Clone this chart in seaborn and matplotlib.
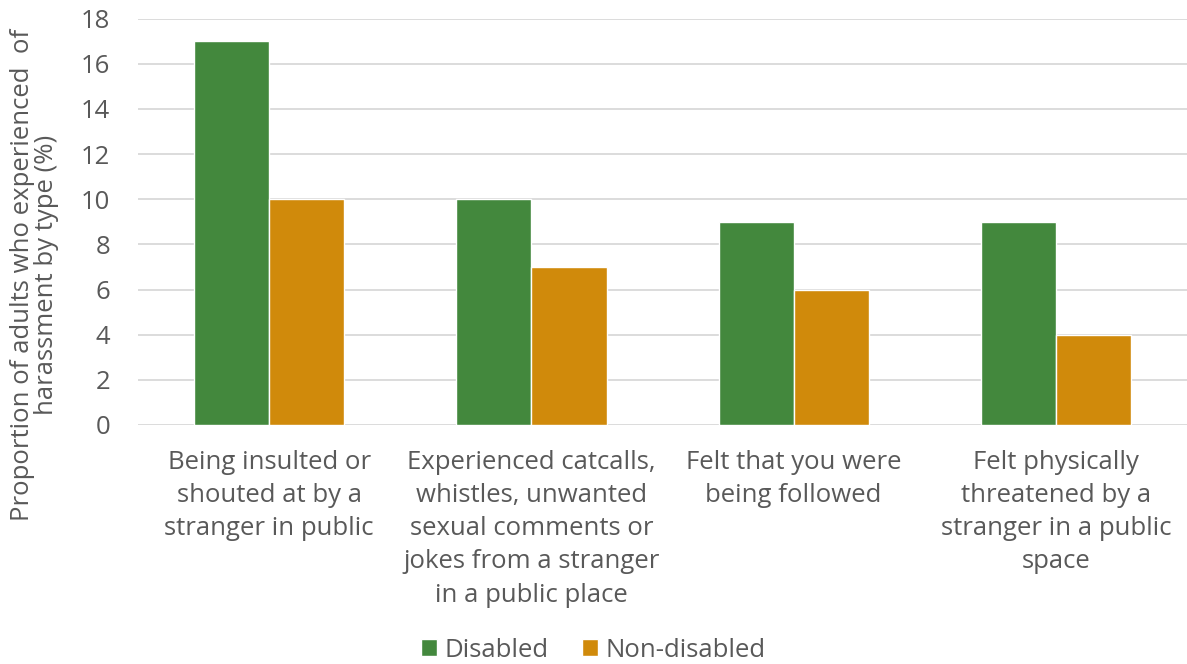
import matplotlib
matplotlib.use("Agg")
import matplotlib.pyplot as plt
import seaborn as sns
import pandas as pd

categories = [
    "Being insulted or\nshouted at by a\nstranger in public",
    "Experienced catcalls,\nwhistles, unwanted\nsexual comments or\njokes from a stranger\nin a public place",
    "Felt that you were\nbeing followed",
    "Felt physically\nthreatened by a\nstranger in a public\nspace",
]
groups = ["Disabled", "Non-disabled"]
disabled = [17, 10, 9, 9]
non_disabled = [10, 7, 6, 4]
yticks = [0, 2, 4, 6, 8, 10, 12, 14, 16, 18]
y_title = "Proportion of adults who experienced  of\nharassment by type (%)"

df = pd.DataFrame({
    "category": categories * 2,
    "group": [groups[0]] * 4 + [groups[1]] * 4,
    "value": disabled + non_disabled,
})

sns.set_theme(style="white")
plt.rcParams["font.family"] = ["Open Sans", "DejaVu Sans"]
text_color = "#595959"
fs = 18.5

fig = plt.figure(figsize=(11.87, 6.64), dpi=100)
ax = fig.add_axes([0.1163, 0.36, 0.8837, 0.612])

sns.barplot(data=df, x="category", y="value", hue="group",
            palette=["#43883D", "#D08A0B"], width=0.573,
            saturation=1, ax=ax, legend=True)

ax.set_ylim(0, 18)
ax.set_yticks(yticks)
ax.yaxis.grid(True, color="#d9d9d9", linewidth=1.3)
ax.set_axisbelow(True)
for s in ax.spines.values():
    s.set_visible(False)
ax.tick_params(axis="y", length=0, labelsize=fs, colors=text_color, pad=20)
ax.tick_params(axis="x", length=0, labelsize=fs, colors=text_color, pad=18)
for lbl in ax.get_xticklabels():
    lbl.set_linespacing(1.43)
ax.set_xlabel("")
ax.set_ylabel("")
ax.set_xlim(-0.5, 3.5)

# Axis title sits a little below the vertical centre of the plot area
fig.text(0.029, 1 - 275 / 664, y_title, rotation=90, ha="center", va="center",
         multialignment="center", fontsize=fs, color=text_color, linespacing=0.97)

handles, labels = ax.get_legend_handles_labels()
ax.get_legend().remove()
leg = fig.legend(handles, labels, loc="center", bbox_to_anchor=(0.5, 0.021), ncol=2,
                 frameon=False, fontsize=fs, handlelength=0.62, handleheight=0.62,
                 handletextpad=0.3, columnspacing=1.3)
for t in leg.get_texts():
    t.set_color(text_color)

fig.savefig("out.png", dpi=100)
